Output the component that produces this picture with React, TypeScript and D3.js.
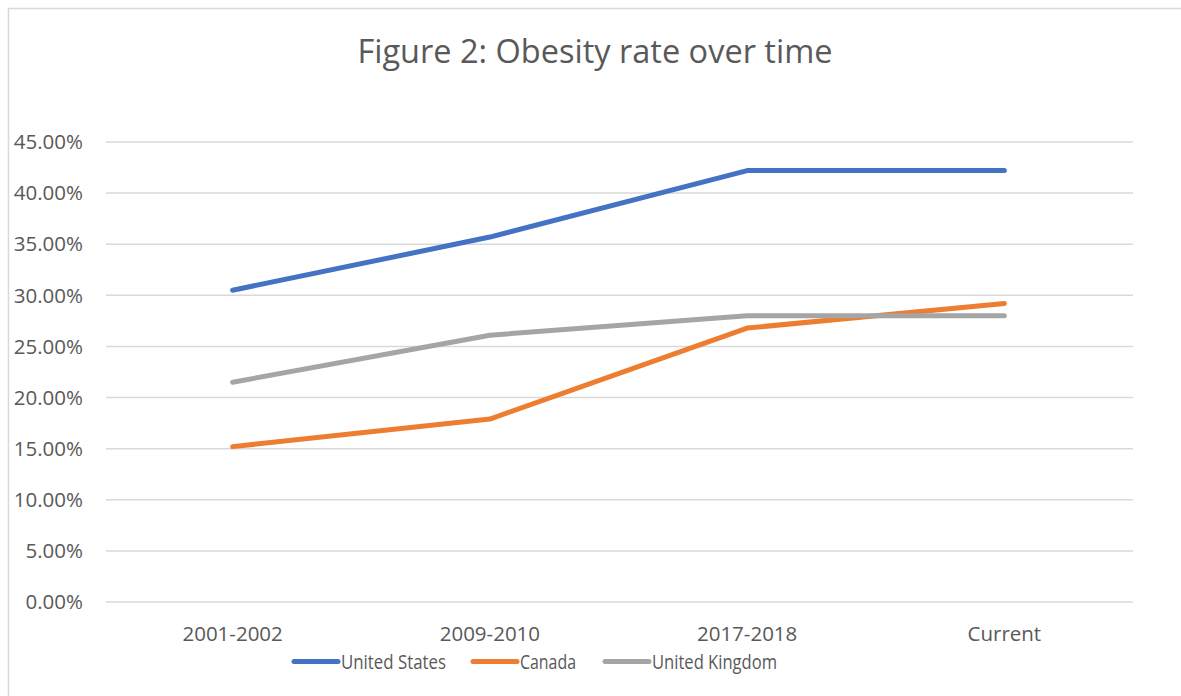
import React from "react";
import * as d3 from "d3";

const categories = ["2001-2002", "2009-2010", "2017-2018", "Current"];
const seriesNames = ["United States", "Canada", "United Kingdom"];
const unitedStates = [30.5, 35.7, 42.2, 42.2];
const canada = [15.2, 17.9, 26.8, 29.2];
const unitedKingdom = [21.5, 26.1, 28.0, 28.0];
const yTicks = [0, 5, 10, 15, 20, 25, 30, 35, 40, 45];
const colors = ["#4472C4", "#ED7D31", "#A5A5A5"];

const W = 1181;
const H = 696;
const FONT = "'Open Sans', sans-serif";
const TEXT = "#595959";

export default function App() {
  const plotLeft = 104;
  const plotRight = 1133;
  const yTop = 142;
  const yBottom = 602;
  const x = d3.scaleBand().domain(categories).range([plotLeft, plotRight]);
  const y = d3.scaleLinear().domain([0, 45]).range([yBottom, yTop]);
  const line = d3
    .line<number>()
    .x((_, i) => (x(categories[i]) as number) + x.bandwidth() / 2)
    .y((d) => y(d));
  const series = [unitedStates, canada, unitedKingdom];
  const legendX = [294, 473, 605];
  const legendTextW = [105, 56, 125];

  return (
    <svg
      width={W}
      height={H}
      style={{ position: "absolute", left: 0, top: 0, background: "#fff" }}
    >
      <rect x={8.5} y={8.5} width={W + 10} height={H + 10} fill="#fff" stroke="#d9d9d9" strokeWidth={1.5} />
      <text
        x={595}
        y={63}
        textAnchor="middle"
        fontFamily={FONT}
        fontSize={32.5}
        fill={TEXT}
      >
        Figure 2: Obesity rate over time
      </text>
      {yTicks.map((t) => (
        <g key={t}>
          <line x1={plotLeft + 2} x2={plotRight} y1={y(t)} y2={y(t)} stroke="#d9d9d9" strokeWidth={1.5} />
          <text
            x={83}
            y={y(t)}
            dy="0.35em"
            textAnchor="end"
            fontFamily={FONT}
            fontSize={20.5}
            fill={TEXT}
          >
            {t.toFixed(2) + "%"}
          </text>
        </g>
      ))}
      {categories.map((c) => (
        <text
          key={c}
          x={(x(c) as number) + x.bandwidth() / 2}
          y={641}
          textAnchor="middle"
          fontFamily={FONT}
          fontSize={20.5}
          fill={TEXT}
        >
          {c}
        </text>
      ))}
      {series.map((s, i) => (
        <path
          key={i}
          d={line(s) as string}
          fill="none"
          stroke={colors[i]}
          strokeWidth={5}
          strokeLinejoin="round"
          strokeLinecap="round"
        />
      ))}
      {seriesNames.map((n, i) => (
        <g key={n}>
          <line
            x1={legendX[i]}
            x2={legendX[i] + 44}
            y1={661.5}
            y2={661.5}
            stroke={colors[i]}
            strokeWidth={5}
            strokeLinecap="round"
          />
          <text
            x={legendX[i] + 47}
            y={661.5}
            dy="0.35em"
            fontFamily={FONT}
            fontSize={20.5}
            fill={TEXT}
            textLength={legendTextW[i]}
            lengthAdjust="spacingAndGlyphs"
          >
            {n}
          </text>
        </g>
      ))}
    </svg>
  );
}
